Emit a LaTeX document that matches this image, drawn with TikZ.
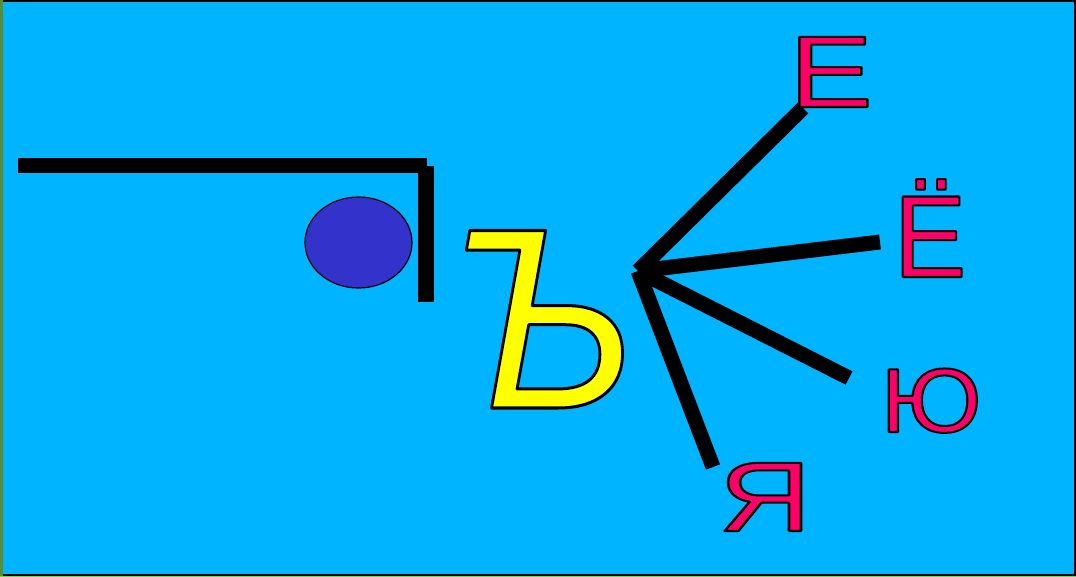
\documentclass[tikz,border=0pt]{standalone}
\usepackage{fontspec}
\setmainfont{Liberation Sans}
\definecolor{bgc}{RGB}{0,180,255}
\definecolor{letc}{RGB}{255,0,102}
\definecolor{ballc}{RGB}{51,51,204}
\definecolor{yelc}{RGB}{255,255,0}
\definecolor{edgegreen}{RGB}{90,140,50}
\definecolor{lightgreen}{RGB}{110,220,70}
\newcommand{\outl}[2]{\special{pdf:literal direct 0 0 0 RG #1 w 1 j 2 Tr}#2\special{pdf:literal direct 0 Tr}}
\tikzset{
  bar/.style={line width=15.5pt, line cap=butt, black},
  spoke/.style={line width=15pt, line cap=butt, black},
  letter/.style={anchor=base, inner sep=0pt, text=letc},
}
\begin{document}
\begin{tikzpicture}[x=1pt,y=-1pt]
\useasboundingbox (0,0) rectangle (1076,577);
\fill[bgc] (0,0) rectangle (1076,577);
\draw[black, line width=2pt] (1,1) rectangle (1075,575);
\fill[edgegreen] (0,0) rectangle (3,577);
\fill[lightgreen] (0,576) rectangle (1076,577);
% bracket
\coordinate (b1) at (18,165.5);
\coordinate (b2) at (427,165.5);
\coordinate (b3) at (426,166);
\coordinate (b4) at (426,302);
\draw[bar] (b1) -- (b2);
\draw[line width=16pt, line cap=butt] (b3) -- (b4);
% ball
\draw[fill=ballc, line width=1.2pt] (358.5,242.5) ellipse [x radius=53.5pt, y radius=45.5pt];
% spokes
\coordinate (hub) at (638,271);
\coordinate (eE) at (803,108);
\coordinate (eYo) at (880,242);
\coordinate (eYu) at (849,378);
\coordinate (eYa) at (713,467);
\draw[spoke] (hub) -- (eE);
\draw[spoke] (hub) -- (eYo);
\draw[spoke] (hub) -- (eYu);
\draw[spoke] (hub) -- (eYa);
% hard sign
\node[anchor=base, inner sep=0pt, text=yelc, xscale=0.925, font=\itshape\fontsize{258}{258}\selectfont] (hard) at (541,408) {\outl{3}{Ъ}};
% letters
\node[letter, xscale=1.23, font=\fontsize{102}{102}\selectfont] (E) at (831,107) {\outl{2}{Е}};
\node[letter, xscale=0.93, font=\fontsize{117}{117}\selectfont] (Yo) at (930,277) {\outl{2}{Ё}};
\node[letter, xscale=1.1, font=\fontsize{91}{91}\selectfont] (Yu) at (931,432) {\outl{2}{Ю}};
\node[letter, xscale=1.3, font=\fontsize{99}{99}\selectfont] (Ya) at (765,531) {\outl{2}{Я}};
\end{tikzpicture}
\end{document}
